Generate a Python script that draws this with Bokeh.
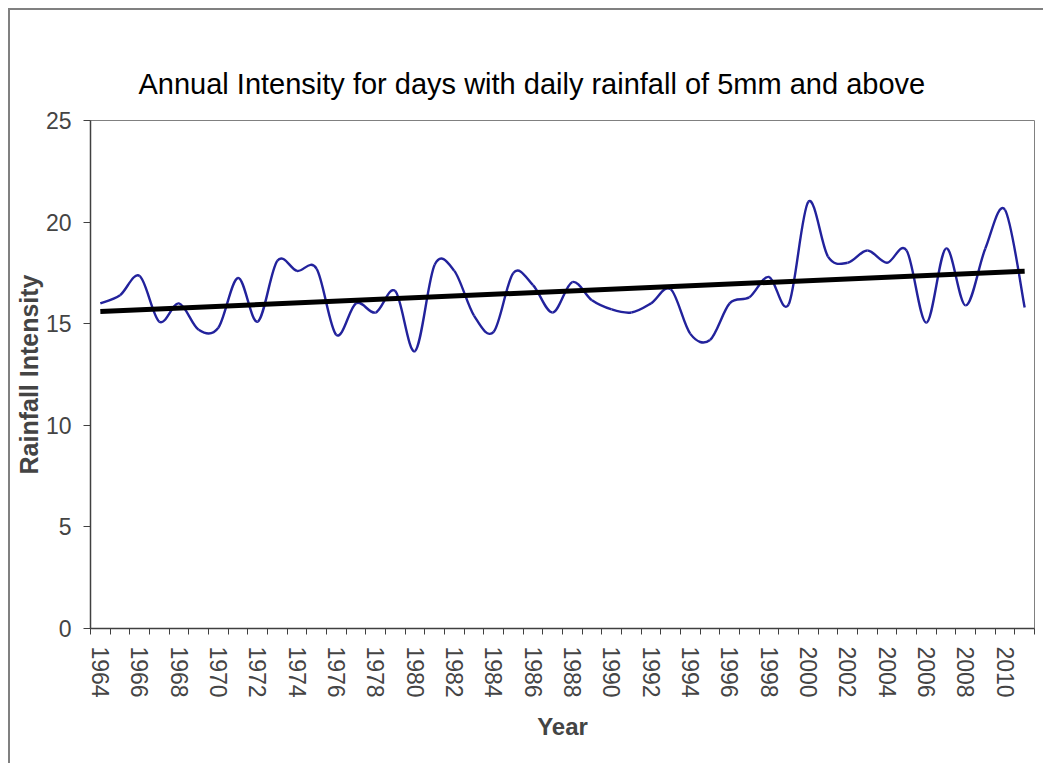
import numpy as np
from bokeh.plotting import figure
from bokeh.models import Range1d, FixedTicker
from bokeh.embed import file_html
from bokeh.resources import INLINE

# ---- data ----
years = list(range(1964, 2012))
intensity = [16.0, 16.4, 17.35, 15.1, 16.0, 14.7, 14.8, 17.25,
             15.1, 18.1, 17.6, 17.7, 14.45, 16.0, 15.55, 16.6,
             13.65, 17.9, 17.6, 15.4, 14.6, 17.5, 16.9, 15.55,
             17.05, 16.15, 15.7, 15.55, 16.0, 16.7, 14.5, 14.2,
             16.0, 16.3, 17.3, 15.95, 21.0, 18.3, 18.0, 18.6,
             18.0, 18.6, 15.05, 18.7, 15.9, 18.7, 20.6, 15.8]
label_years = list(range(1964, 2011, 2))
y_ticks = [0, 5, 10, 15, 20, 25]

FONT = "Liberation Sans"

p = figure(width=1035, height=755, output_backend="svg", toolbar_location=None,
           x_range=Range1d(years[0] - 0.5, years[-1] + 0.5), y_range=Range1d(0, 25),
           min_border_left=80, min_border_right=11, min_border_top=110, min_border_bottom=137,
           background_fill_color="white", border_fill_color="white")
p.styles = {"margin-left": "8px", "margin-top": "8px",
            "border-left": "2px solid #808080", "border-top": "2px solid #808080"}

p.title.text = "Annual Intensity for days with daily rainfall of 5mm and above"
p.title.text_font = FONT
p.title.text_font_size = "29px"
p.title.text_font_style = "normal"
p.title.text_color = "black"
p.title.align = "left"
p.title.offset = 48
p.title.standoff = 41

p.grid.visible = False
p.outline_line_color = "#808080"
p.outline_line_width = 1

# y axis
ya = p.yaxis[0]
ya.ticker = FixedTicker(ticks=y_ticks)
ya.axis_label = "Rainfall Intensity"
ya.axis_label_text_font = FONT
ya.axis_label_text_font_size = "25px"
ya.axis_label_text_font_style = "bold"
ya.axis_label_standoff = 0
ya.major_label_text_font = FONT
ya.major_label_text_font_size = "23px"
ya.major_label_standoff = 12
ya.major_tick_out = 7
ya.major_tick_in = 0
ya.minor_tick_out = 0
ya.minor_tick_in = 0
ya.axis_line_color = "#404040"
ya.axis_line_width = 1.5
ya.major_tick_line_color = "#404040"

# x axis (category style: ticks between years, labels every second year)
xa = p.xaxis[0]
xa.ticker = FixedTicker(ticks=label_years,
                        minor_ticks=[y - 0.5 for y in years] + [years[-1] + 0.5])
xa.major_label_overrides = {yr: str(yr) for yr in label_years}
xa.major_label_orientation = "vertical"
xa.axis_label = "Year"
xa.axis_label_text_font = FONT
xa.axis_label_text_font_size = "24px"
xa.axis_label_text_font_style = "bold"
xa.axis_label_standoff = 12
xa.major_label_text_font = FONT
xa.major_label_text_font_size = "23px"
xa.major_label_standoff = 12
xa.major_tick_out = 0
xa.major_tick_in = 0
xa.minor_tick_out = 6
xa.minor_tick_in = 0
xa.minor_tick_line_color = "#404040"
xa.axis_line_color = "#404040"
xa.axis_line_width = 1.5

# ---- smoothed series (Catmull-Rom style Bezier through each data point) ----
x = np.array(years, dtype=float)
y = np.array(intensity, dtype=float)
n = len(x)
idx = np.arange(n - 1)
prev_i = np.maximum(idx - 1, 0)
next_i = np.minimum(idx + 2, n - 1)
cx0 = x[idx] + (x[idx + 1] - x[prev_i]) / 6.0
cy0 = y[idx] + (y[idx + 1] - y[prev_i]) / 6.0
cx1 = x[idx + 1] - (x[next_i] - x[idx]) / 6.0
cy1 = y[idx + 1] - (y[next_i] - y[idx]) / 6.0
p.bezier(x0=x[:-1], y0=y[:-1], x1=x[1:], y1=y[1:],
         cx0=cx0, cy0=cy0, cx1=cx1, cy1=cy1,
         line_color="#22229c", line_width=2.4)

# ---- linear trend ----
coef = np.polyfit(x, y, 1)
tx = np.array([x[0], x[-1]])
p.line(x=tx, y=np.polyval(coef, tx), line_color="black", line_width=5)

open("out.html", "w").write(file_html(p, INLINE))
